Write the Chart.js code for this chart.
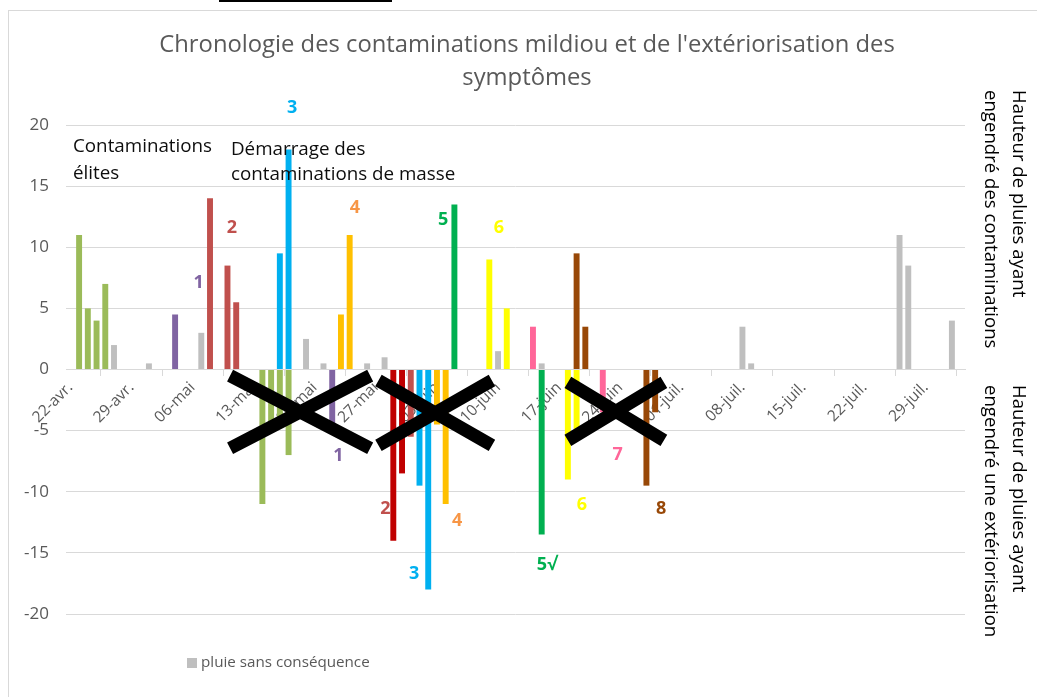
<!DOCTYPE html>
<html lang="fr">
<head>
<meta charset="UTF-8">
<title>Chronologie des contaminations mildiou</title>
<script src="https://cdn.jsdelivr.net/npm/chart.js"></script>
<style>
    body { margin: 0; background: #fff; }
    .cadre { position: absolute; left: 8px; top: 10px; width: 1100px; height: 800px;
             border-left: 1px solid #D9D9D9; border-top: 1px solid #D9D9D9; }
    .trait { position: absolute; left: 219px; top: 0; width: 173px; height: 2px; background: #000; }
    #graf { position: absolute; left: 0; top: 0; }
</style>
</head>
<body>
<div class="cadre"></div>
<div class="trait"></div>
<canvas id="graf" width="1037" height="697"></canvas>

<script>
// jour 0 = 22 avril, un label tous les 7 jours
const tickLabels = ['22-avr.', '29-avr.', '06-mai', '13-mai', '20-mai', '27-mai', '03-juin', '10-juin',
                    '17-juin', '24-juin', '01-juil.', '08-juil.', '15-juil.', '22-juil.', '29-juil.'];
const nbJours = 103;
const jours = Array.from({length: nbJours}, (_, i) => i);

// hauteur de pluie (mm) : positif = contamination, negatif = exteriorisation
const eliteJours = [1, 2, 3, 4, 22, 23, 24, 25];
const eliteMm    = [11, 5, 4, 7, -11, -5, -4, -7];
const c1Jours = [12, 30];
const c1Mm    = [4.5, -4.5];
const c2Jours = [16, 18, 19, 39];
const c2Mm    = [14, 8.5, 5.5, -5.5];
const c2bJours = [37, 38];
const c2bMm    = [-14, -8.5];
const c3Jours = [24, 25, 40, 41];
const c3Mm    = [9.5, 18, -9.5, -18];
const c4Jours = [31, 32, 42, 43];
const c4Mm    = [4.5, 11, -4.5, -11];
const c5Jours = [44, 54];
const c5Mm    = [13.5, -13.5];
const c6Jours = [48, 50, 57, 58];
const c6Mm    = [9, 5, -9, -5];
const c7Jours = [53, 61];
const c7Mm    = [3.5, -3.5];
const c8Jours = [58, 59, 66, 67];
const c8Mm    = [9.5, 3.5, -9.5, -3.5];
const sansJours = [5, 9, 15, 27, 29, 34, 36, 49, 54, 77, 78, 95, 96, 101];
const sansMm    = [2, 0.5, 3, 2.5, 0.5, 0.5, 1, 1.5, 0.5, 3.5, 0.5, 11, 8.5, 4];

// etiquettes : texte, jour, valeur, couleur
const etiquettes = [
    ['3', 25.4, 21.4, '#00B0F0'], ['2', 18.5, 11.6, '#C0504D'], ['1', 14.7, 7.1, '#8064A2'],
    ['4', 32.6, 13.2, '#F79646'], ['5', 42.7, 12.2, '#00B050'], ['6', 49.1, 11.6, '#FFFF00'],
    ['1', 30.7, -7.1, '#8064A2'], ['2', 36.1, -11.4, '#C0504D'], ['3', 39.4, -16.7, '#00B0F0'],
    ['4', 44.3, -12.4, '#F79646'], ['5\u221A', 54.6, -16.0, '#00B050'], ['6', 58.6, -11.1, '#FFFF00'],
    ['7', 62.7, -7.0, '#FF6699'], ['8', 67.7, -11.4, '#984807']
];
const textes = [
    ['Contaminations', 0.3, 18.2], ['élites', 0.3, 16.0],
    ['Démarrage des', 18.4, 18.0], ['contaminations de masse', 18.4, 15.9]
];
// croix : jour debut, jour fin, valeur haut, valeur bas
const croix = [[18.3, 34.35, -0.5, -6.45], [35.3, 48.3, -0.9, -6.2], [57.0, 68.0, -1.05, -5.8]];

function serie(js, mm) {
    const d = new Array(nbJours).fill(null);
    js.forEach((j, k) => { d[j] = mm[k]; });
    return d;
}

function barre(label, js, mm, couleur) {
    return { label: label, data: serie(js, mm), backgroundColor: couleur,
             categoryPercentage: 1, barPercentage: 0.68 };
}

const decor = {
    id: 'decor',
    afterDraw(chart) {
        const ctx = chart.ctx;
        const x = chart.scales.x, y = chart.scales.y;
        ctx.save();

        // titre
        ctx.fillStyle = '#595959';
        ctx.font = '23.8px "Open Sans"';
        ctx.textAlign = 'center';
        ctx.textBaseline = 'middle';
        ctx.fillText("Chronologie des contaminations mildiou et de l'extériorisation des", 527, 45);
        ctx.fillText('symptômes', 527, 78);

        // textes
        ctx.fillStyle = '#0D0D0D';
        ctx.font = '18.8px "Open Sans"';
        ctx.textAlign = 'left';
        textes.forEach(t => ctx.fillText(t[0], x.getPixelForValue(t[1]), y.getPixelForValue(t[2])));

        // chiffres
        ctx.font = 'bold 18px "Open Sans"';
        ctx.textAlign = 'center';
        etiquettes.forEach(e => {
            ctx.fillStyle = e[3];
            ctx.fillText(e[0], x.getPixelForValue(e[1]), y.getPixelForValue(e[2]));
        });

        // croix
        ctx.strokeStyle = '#000';
        ctx.lineWidth = 13;
        ctx.lineCap = 'butt';
        croix.forEach(c => {
            const x1 = x.getPixelForValue(c[0]), x2 = x.getPixelForValue(c[1]);
            const y1 = y.getPixelForValue(c[2]), y2 = y.getPixelForValue(c[3]);
            ctx.beginPath();
            ctx.moveTo(x1, y1); ctx.lineTo(x2, y2);
            ctx.moveTo(x1, y2); ctx.lineTo(x2, y1);
            ctx.stroke();
        });

        // titres a droite
        ctx.fillStyle = '#000';
        ctx.font = '18.6px "Open Sans"';
        ctx.textAlign = 'left';
        const titreDroit = (l1, l2, haut) => {
            ctx.save();
            ctx.translate(1018, haut);
            ctx.rotate(Math.PI / 2);
            ctx.fillText(l1, 0, 0);
            ctx.fillText(l2, 0, 28);
            ctx.restore();
        };
        titreDroit('Hauteur de pluies ayant', 'engendré des contaminations', 90);
        titreDroit('Hauteur de pluies ayant', 'engendré une extériorisation', 385);

        // legende
        ctx.fillStyle = '#BFBFBF';
        ctx.fillRect(187, 658, 10, 10);
        ctx.fillStyle = '#595959';
        ctx.font = '15.2px "Open Sans"';
        ctx.fillText('pluie sans conséquence', 201, 663);

        ctx.restore();
    }
};

Chart.defaults.font.family = '"Open Sans"';

new Chart(document.getElementById('graf'), {
    type: 'bar',
    data: {
        labels: jours,
        datasets: [
            barre('pluie sans conséquence', sansJours, sansMm, '#BFBFBF'),
            barre('élites', eliteJours, eliteMm, '#9BBB59'),
            barre('1', c1Jours, c1Mm, '#8064A2'),
            barre('2', c2Jours, c2Mm, '#C0504D'),
            barre('2b', c2bJours, c2bMm, '#C00000'),
            barre('3', c3Jours, c3Mm, '#00B0F0'),
            barre('4', c4Jours, c4Mm, '#FFC000'),
            barre('5', c5Jours, c5Mm, '#00B050'),
            barre('6', c6Jours, c6Mm, '#FFFF00'),
            barre('7', c7Jours, c7Mm, '#FF6699'),
            barre('8', c8Jours, c8Mm, '#984807')
        ]
    },
    options: {
        responsive: false,
        animation: false,
        layout: { padding: { left: 0, top: 125, right: 72, bottom: 83 } },
        plugins: { legend: { display: false }, tooltip: { enabled: false } },
        scales: {
            x: {
                stacked: true,
                position: { y: 0 },
                grid: { display: true, drawOnChartArea: false, color: '#D9D9D9', tickLength: 6, offset: true },
                border: { color: '#D9D9D9' },
                ticks: {
                    autoSkip: false, minRotation: 45, maxRotation: 45, padding: 3,
                    color: '#595959', font: { size: 15.5 },
                    callback: (v, i) => (i % 7 === 0 ? tickLabels[i / 7] : null)
                }
            },
            y: {
                stacked: true,
                min: -20, max: 20,
                ticks: { stepSize: 5, color: '#595959', font: { size: 17 }, padding: 17 },
                grid: { color: '#D9D9D9', drawTicks: false },
                border: { display: false },
                afterFit(s) { s.width = 66; }
            }
        }
    },
    plugins: [decor]
});
</script>
</body>
</html>
